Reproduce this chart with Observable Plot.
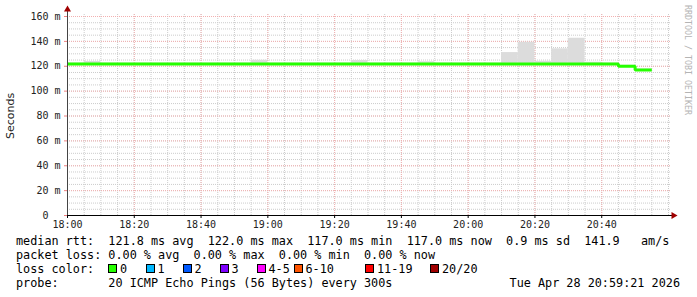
<!DOCTYPE html>
<html>
<head>
<meta charset="utf-8">
<script src="https://cdn.jsdelivr.net/npm/d3@7"></script>
<script src="https://cdn.jsdelivr.net/npm/@observablehq/plot@0.6"></script>
<style>
  html, body { margin: 0; padding: 0; background: #fff; }
  #wrap { position: relative; width: 697px; height: 297px; background: #fff; overflow: hidden; }
  #chart { position: absolute; left: 0; top: 0; }
  .txt { position: absolute; font-family: "DejaVu Sans Mono", monospace; font-size: 11.8px; line-height: 14px; white-space: pre; color: #000; }
  .sq { position: absolute; width: 9px; height: 9px; box-sizing: border-box; border: 1px solid #000; }
  #ylabel { position: absolute; left: 4px; top: 92px; height: 47px; font-family: "DejaVu Sans", sans-serif; font-size: 11px; writing-mode: vertical-rl; transform: rotate(180deg); color: #222; line-height: 14px; }
  #wm { position: absolute; left: 683px; top: 5px; font-family: "DejaVu Sans Mono", monospace; font-size: 8.3px; writing-mode: vertical-rl; color: #b4b4b4; line-height: 10px; white-space: pre; }
</style>
</head>
<body>
<div id="wrap">
  <div id="chart"></div>
  <div id="ylabel">Seconds</div>
  <div id="wm">RRDTOOL / TOBI OETIKER</div>
</div>
<script>
// ---- data ----
const times = [
  "18:00","18:05","18:10","18:15","18:20","18:25","18:30","18:35","18:40","18:45","18:50","18:55",
  "19:00","19:05","19:10","19:15","19:20","19:25","19:30","19:35","19:40","19:45","19:50","19:55",
  "20:00","20:05","20:10","20:15","20:20","20:25","20:30","20:35","20:40","20:45","20:50","20:55"
];
// median rtt (ms) per point (step-after; last point closes the line)
const medianRtt = [
  121.9,121.9,121.9,121.9,121.9,121.9,121.9,121.9,121.9,121.9,121.9,121.9,
  121.9,121.9,121.9,121.9,121.9,121.9,121.9,121.9,121.9,121.9,121.9,121.9,
  121.9,121.9,121.9,121.9,121.9,121.9,121.9,121.9,121.9,120.0,117.0,117.0
];
// smoke (ping spread) per 5-minute bin, ms
const smokeMin = [
  121.2,121.2,121.2,121.2,121.2,121.2,121.2,121.2,121.2,121.2,121.2,121.2,
  121.2,121.2,121.2,121.2,121.2,121.2,121.2,121.2,121.2,121.2,121.2,121.2,
  121.2,121.2,121.2,121.2,121.2,121.2,121.2,121.2,121.2,119.3,116.3
];
const smokeMax = [
  122.6,123.8,122.6,122.6,122.6,122.6,122.6,122.6,122.6,122.6,122.6,124.8,
  122.6,122.6,122.6,122.6,122.6,124.6,122.6,122.6,122.6,123.6,122.6,122.6,
  122.6,122.6,131.0,139.3,124.0,134.0,142.5,123.2,122.6,120.8,117.8
];
const xTickLabels = ["18:00","18:20","18:40","19:00","19:20","19:40","20:00","20:20","20:40"];
const yTickValues = [0,20,40,60,80,100,120,140,160];
const statsLine1 = "median rtt:  121.8 ms avg  122.0 ms max  117.0 ms min  117.0 ms now  0.9 ms sd  141.9   am/s";
const statsLine2 = "packet loss: 0.00 % avg  0.00 % max  0.00 % min  0.00 % now";
const lossLabels = ["0","1","2","3","4-5","6-10","11-19","20/20"];
const lossColors = ["#26ff00","#00b8ff","#0059ff","#7e00ff","#ff00ff","#ff5500","#ff0000","#a00000"];
const probeText = "probe:       20 ICMP Echo Pings (56 Bytes) every 300s";
const dateText = "Tue Apr 28 20:59:21 2026";

// ---- build ----
const parseT = s => { const [h, m] = s.split(":").map(Number); return new Date(2026, 3, 28, h, m, 0); };
const xStart = parseT("18:00"), xEnd = parseT("21:00");
const linePts = times.map((t, i) => ({t: parseT(t), v: medianRtt[i]}));
const smoke = smokeMin.map((lo, i) => ({t1: parseT(times[i]), t2: parseT(times[i + 1]), lo, hi: smokeMax[i]}));
const minorX = d3.timeMinute.every(5).range(xStart, d3.timeMinute.offset(xEnd, 1));
const majorX = xTickLabels.map(parseT);
const minorY = d3.range(0, 161, 5);

const chart = Plot.plot({
  width: 697, height: 232,
  marginLeft: 67, marginRight: 29, marginTop: 16, marginBottom: 17,
  style: {fontFamily: "DejaVu Sans Mono, monospace", fontSize: "10px", color: "#222", background: "white", overflow: "visible"},
  x: {type: "time", domain: [xStart, xEnd]},
  y: {domain: [0, 160]},
  marks: [
    Plot.gridX(minorX, {stroke: "#cccccc", strokeOpacity: 1, strokeDasharray: "1,1", insetTop: -2}),
    Plot.gridY(minorY, {stroke: "#cccccc", strokeOpacity: 1, strokeDasharray: "1,1", insetRight: -2}),
    Plot.gridX(majorX, {stroke: "#f2b0b0", strokeOpacity: 1, strokeDasharray: "1,1", insetTop: -2}),
    Plot.gridY(yTickValues, {stroke: "#f2b0b0", strokeOpacity: 1, strokeDasharray: "1,1", insetRight: -2}),
    Plot.rectY(smoke, {x1: "t1", x2: "t2", y1: "lo", y2: "hi", fill: "#dcdcdc"}),
    Plot.line(linePts, {x: "t", y: "v", curve: "step-after", stroke: "#26ff00", strokeWidth: 3, strokeLinecap: "butt", strokeLinejoin: "miter"}),
    Plot.axisX(majorX, {tickFormat: d3.timeFormat("%H:%M"), tickSize: 3, tickPadding: 2, stroke: "#000", fill: "#222", label: null}),
    Plot.axisY(yTickValues, {tickFormat: d => d === 0 ? "0\u00a0\u00a0" : d + " m", tickSize: 3, tickPadding: 4, stroke: "#f08080", fill: "#222", label: null}),
    Plot.ruleY([0], {stroke: "#000", strokeWidth: 1, insetRight: -4}),
    Plot.ruleX([xStart], {stroke: "#444", strokeWidth: 1, insetTop: -7}),
    Plot.dot({length: 1}, {frameAnchor: "bottom-right", symbol: "triangle", r: 2.6, rotate: 90, dx: 5, fill: "#a00000", stroke: null}),
    Plot.dot({length: 1}, {frameAnchor: "top-left", symbol: "triangle", r: 2.6, dy: -7, fill: "#a00000", stroke: null})
  ]
});
document.getElementById("chart").appendChild(chart);

// ---- text rows below the graph ----
const wrap = document.getElementById("wrap");
function addText(str, left, top, extra) {
  const d = document.createElement("div");
  d.className = "txt";
  d.textContent = str;
  d.style.left = left + "px";
  d.style.top = top + "px";
  if (extra) Object.assign(d.style, extra);
  wrap.appendChild(d);
  return d;
}
addText(statsLine1, 16, 234);
addText(statsLine2, 16, 248);
addText("loss color:", 16, 262);
const legendX = [108, 145.5, 182.5, 219.5, 256.5, 293.5, 365, 430];
lossLabels.forEach((lab, i) => {
  const s = document.createElement("div");
  s.className = "sq";
  s.style.left = legendX[i] + "px";
  s.style.top = "264px";
  s.style.background = lossColors[i];
  wrap.appendChild(s);
  addText(lab, legendX[i] + 12, 262);
});
addText(probeText, 16, 276);
addText(dateText, 0, 276, {left: "auto", right: "17px"});
</script>
</body>
</html>
